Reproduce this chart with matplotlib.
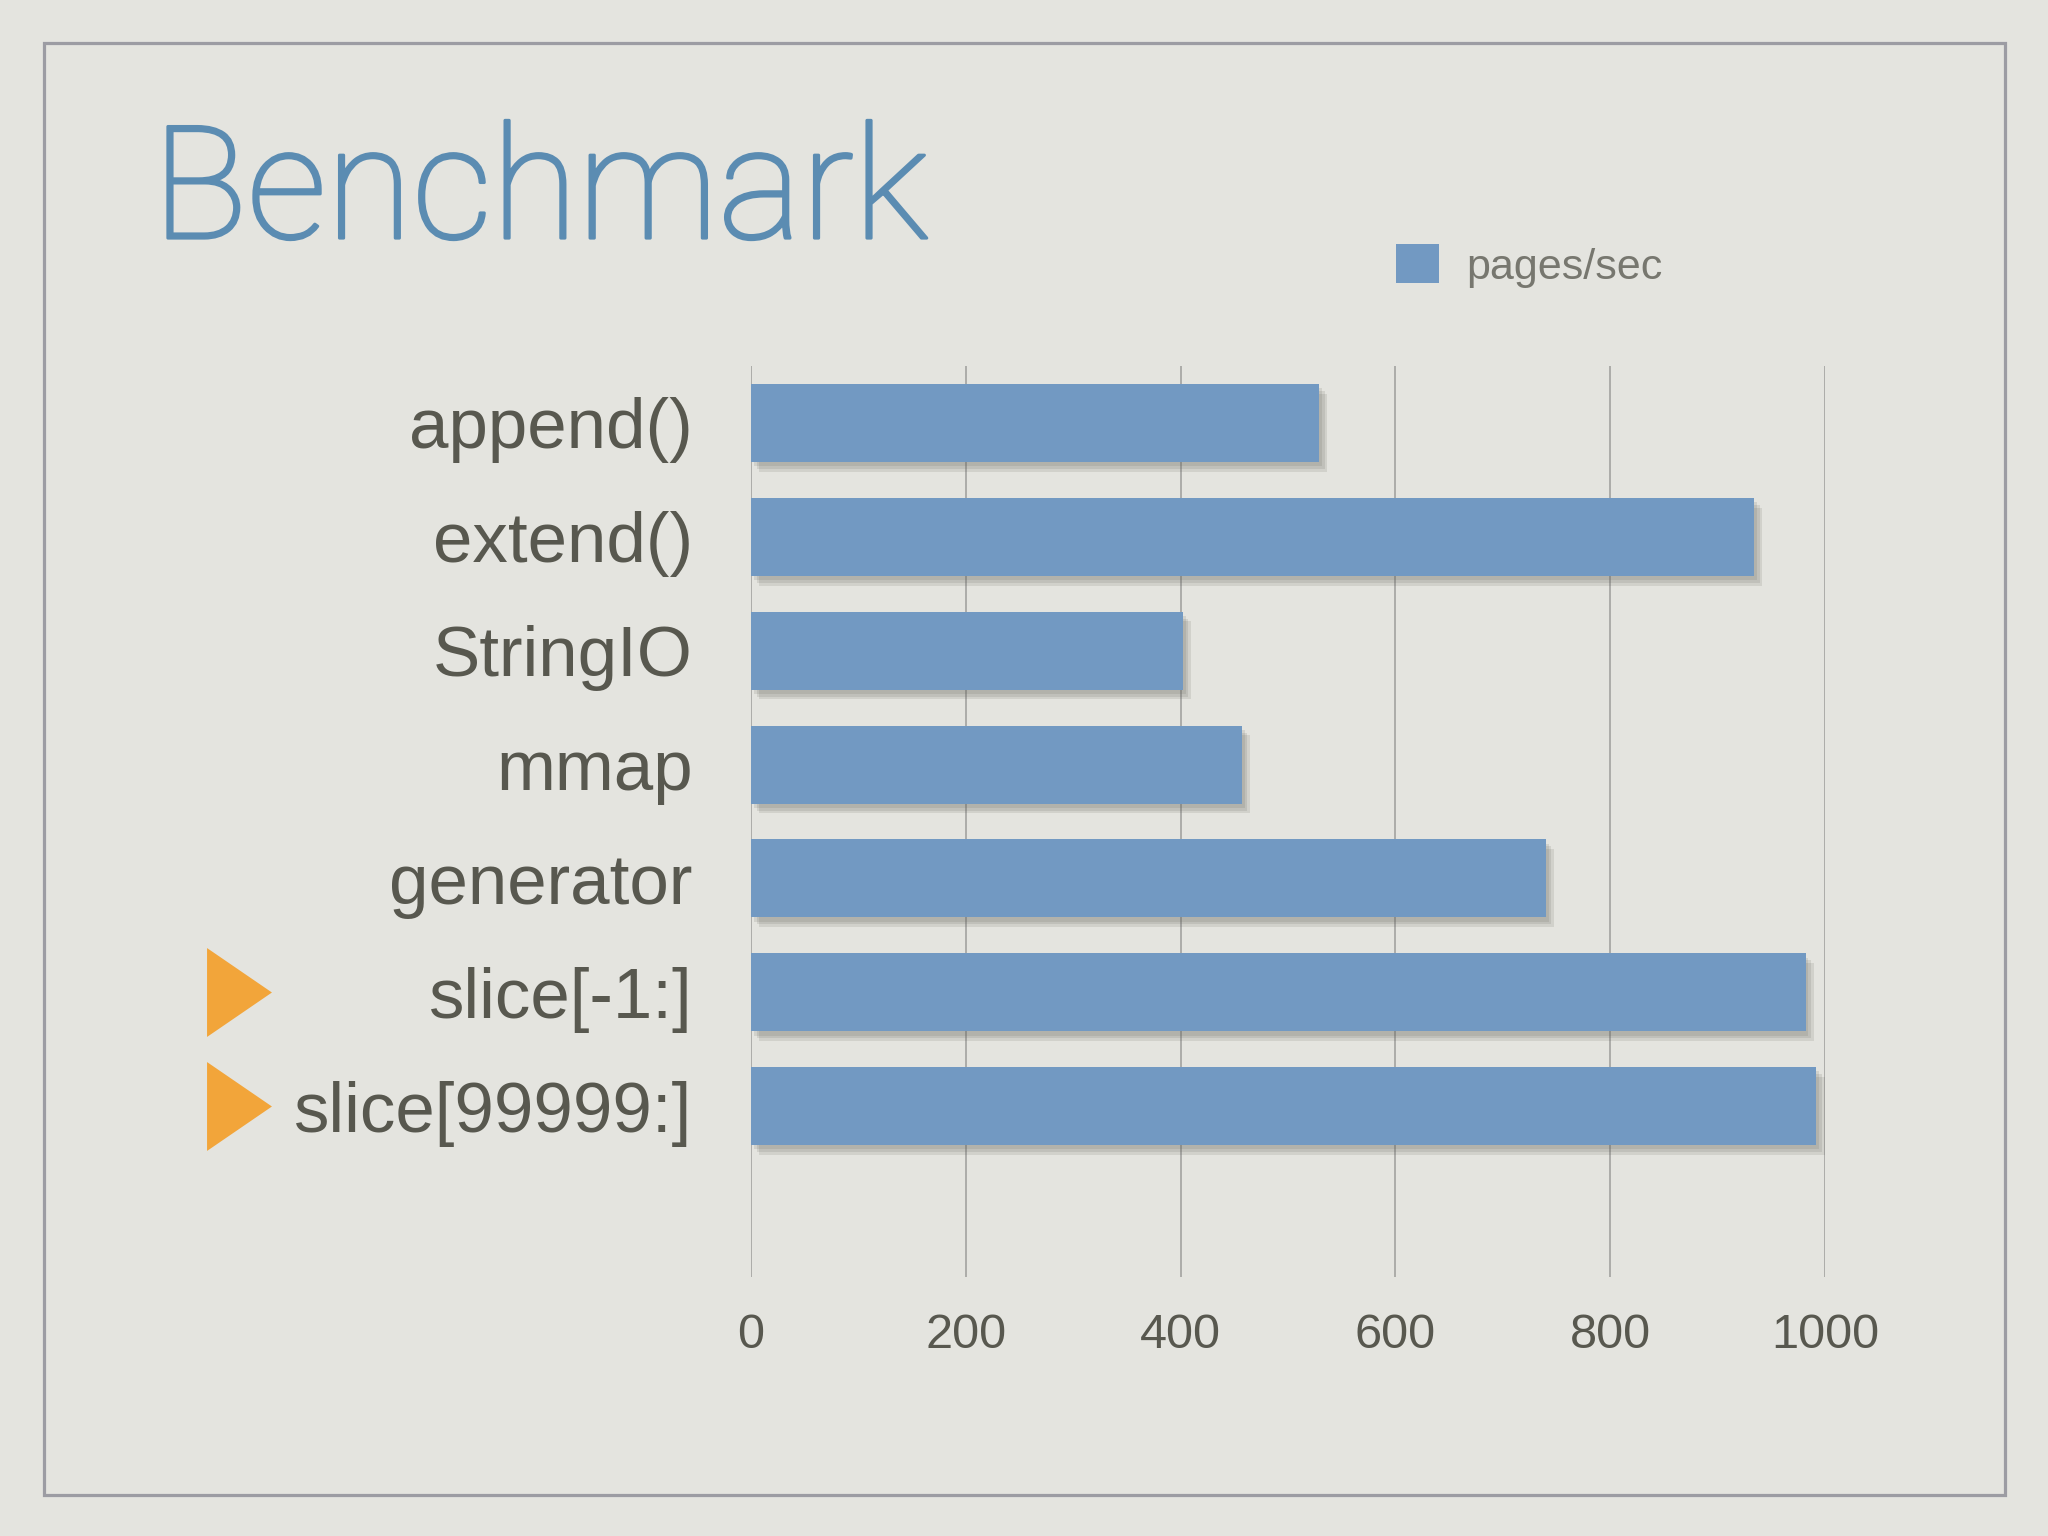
#!/usr/bin/python3

# PURPOSE: horizontal bar chart of string building benchmark (pages/sec)

import numpy as np
import matplotlib.pyplot as plt
import matplotlib.patheffects as pe
from matplotlib.patches import Rectangle, Patch
from matplotlib.transforms import blended_transform_factory

methods = ['append()', 'extend()', 'StringIO', 'mmap', 'generator',
           'slice[-1:]', 'slice[99999:]']
pages_per_sec = [529, 934, 402, 457, 740, 982, 992]
highlight = [False, False, False, False, False, True, True]
xticks = [0, 200, 400, 600, 800, 1000]
series_name = 'pages/sec'

bg = '#e4e4df'
bar_color = '#7299c2'
text_gray = '#58584f'
title_color = '#5b8cb2'

plt.rcParams['font.family'] = ['Liberation Sans', 'DejaVu Sans']

fig = plt.figure(figsize=(20.48, 15.36), dpi=100, facecolor=bg)
ax = fig.add_axes([0.3667, 0.1686, 0.5244, 0.5931])
ax.set_facecolor('none')

							# the bars, with a soft drop shadow (a few faint layers)
shadow = [pe.SimplePatchShadow(offset=(k, -k - 1), shadow_rgbFace='#5f5f55', alpha=0.14)
          for k in (2, 4, 6)]
y = np.arange(len(methods))
ax.barh(y, pages_per_sec, height=0.685, color=bar_color, zorder=3,
        path_effects=shadow + [pe.Normal()])

ax.set_xlim(0, 1000)
ax.set_ylim(len(methods) + 0.5, -0.5)
ax.set_xticks(xticks)
ax.set_yticks(y)
ax.set_yticklabels(methods)
ax.tick_params(axis='y', length=0, pad=42, labelsize=51, labelcolor=text_gray)
ax.tick_params(axis='x', length=0, pad=26, labelsize=35, labelcolor=text_gray)
ax.grid(axis='x', color='#a2a2a0', linewidth=1.2, zorder=0)
for s in ax.spines.values():
	s.set_visible(False)

							# orange arrows next to the slice rows
tri = [(-0.73, -1), (0.73, 0), (-0.73, 1), (-0.73, -1)]
trans = blended_transform_factory(fig.transFigure, ax.transData)
hy = y[np.array(highlight)]
ax.plot(np.full(len(hy), 0.1165), hy, linestyle='none', marker=tri,
        markersize=64, color='#f2a53a', markeredgewidth=0,
        transform=trans, clip_on=False)

							# title (light face, slightly thickened) and legend
fig.text(0.0745, 0.845, 'Benchmark', fontsize=113, color=title_color,
         family=['Roboto', 'DejaVu Sans'], weight='light', va='baseline', ha='left',
         path_effects=[pe.withStroke(linewidth=2.2, foreground=title_color)])
fig.legend(handles=[Patch(facecolor=bar_color, label=series_name)],
           loc='center left', bbox_to_anchor=(1396 / 2048, 1 - 266 / 1536),
           frameon=False, fontsize=31, labelcolor='#77776f',
           handlelength=1.0, handleheight=1.0, handletextpad=0.63,
           borderpad=0, borderaxespad=0)

							# slide frame
fig.patches.append(Rectangle((0.0215, 0.0267), 0.9575, 0.9453, transform=fig.transFigure,
                             fill=False, edgecolor='#9c9ca3', linewidth=2.3))

fig.savefig('out.png', dpi=100, facecolor=bg)
